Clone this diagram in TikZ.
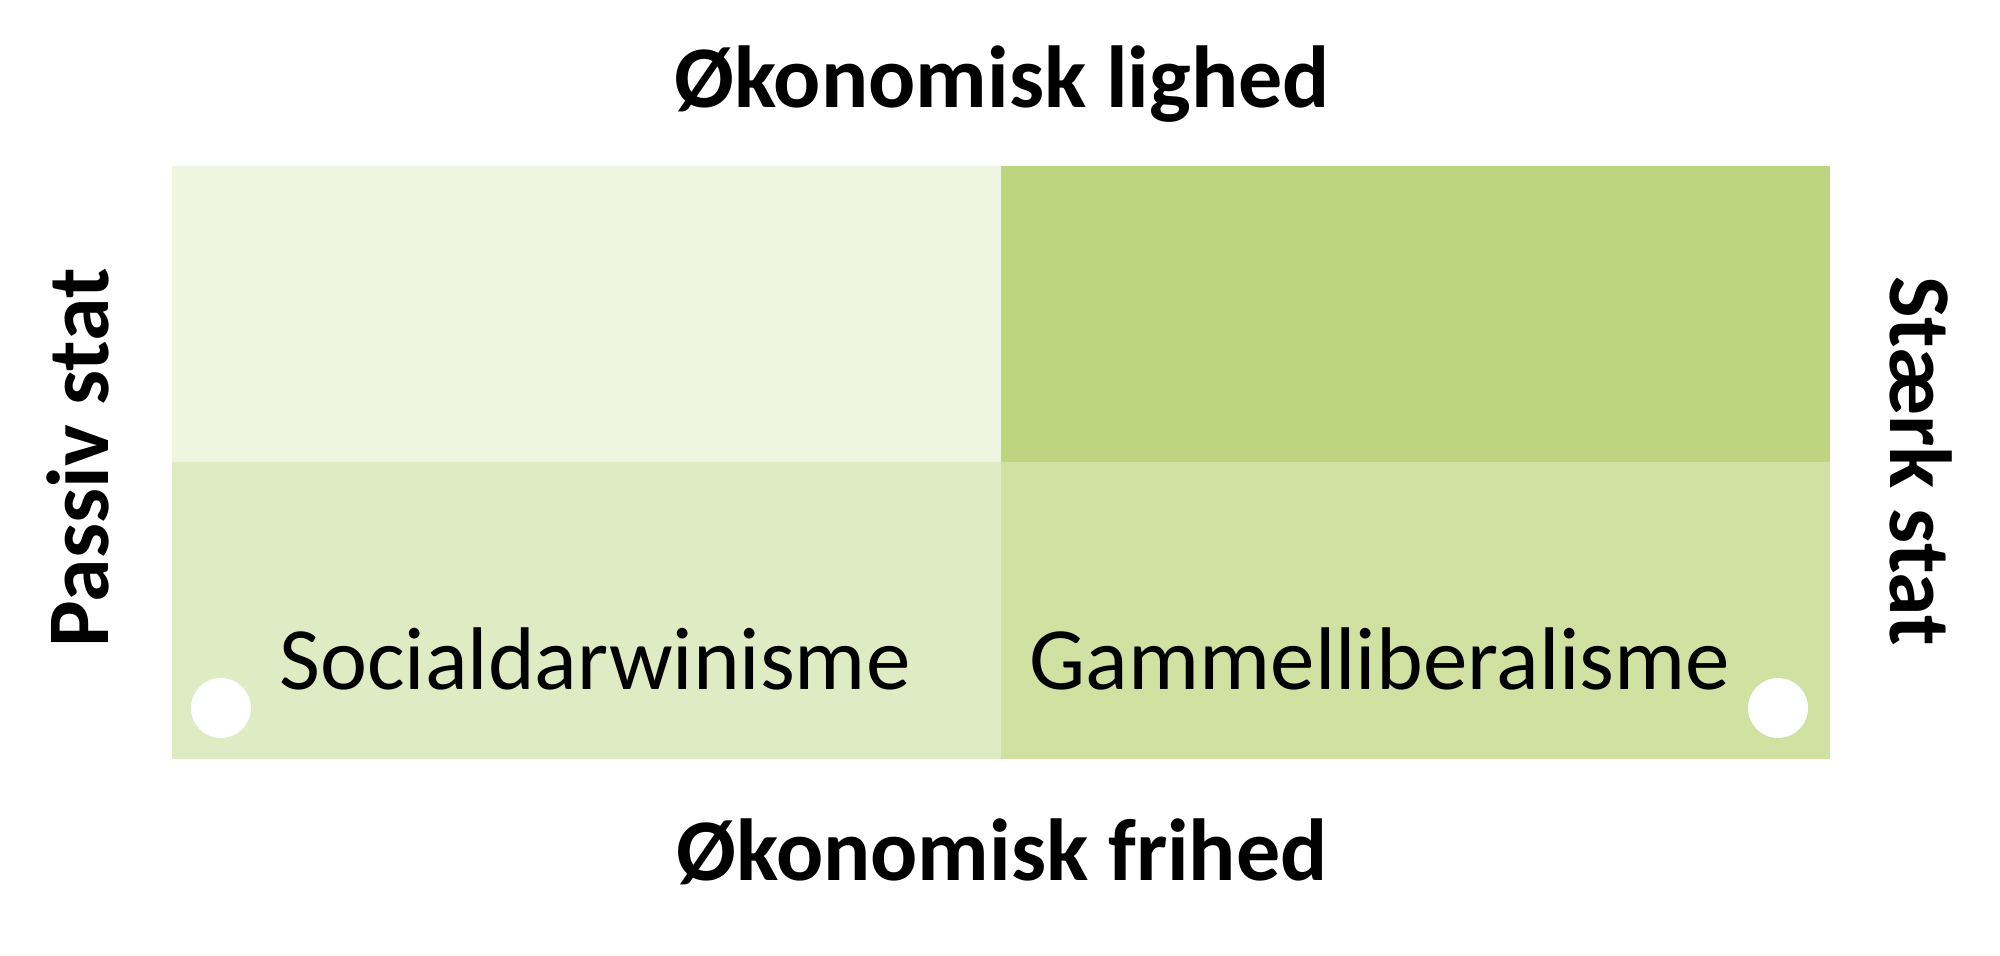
\documentclass[tikz,border=0pt]{standalone}
\usepackage{fontspec}
\setmainfont{Carlito}
\definecolor{cTL}{HTML}{EFF5E1}
\definecolor{cTR}{HTML}{BED57F}
\definecolor{cBL}{HTML}{DFEBC3}
\definecolor{cBR}{HTML}{D0E1A2}
\begin{document}
\begin{tikzpicture}[x=0.5pt,y=-0.5pt,
  cell/.style={draw=none,inner sep=0pt},
  axislabel/.style={font=\fontsize{44}{50}\selectfont\bfseries,inner sep=0pt,anchor=base},
  celllabel/.style={font=\fontsize{44.5}{50}\selectfont,inner sep=0pt,anchor=base},
  hole/.style={circle,fill=white,minimum size=30pt,inner sep=0pt}]
\useasboundingbox (0,0) rectangle (2000,956);
\fill[cTL] (172,166) rectangle (1001,462);
\fill[cTR] (1001,166) rectangle (1830,462);
\fill[cBL] (172,462) rectangle (1001,759);
\fill[cBR] (1001,462) rectangle (1830,759);
\node[axislabel] (top) at (1002,108) {Økonomisk lighed};
\node[axislabel] (bottom) at (1002,880) {Økonomisk frihed};
\node[axislabel,rotate=90] (left) at (108,458) {Passiv stat};
\node[axislabel,rotate=-90] (right) at (1890,461) {Stærk stat};
\node[celllabel] (sd) at (595,689) {Socialdarwinisme};
\node[celllabel] (gl) at (1380,689) {Gammelliberalisme};
\node[hole] (h1) at (221,708) {};
\node[hole] (h2) at (1778,708) {};
\end{tikzpicture}
\end{document}
